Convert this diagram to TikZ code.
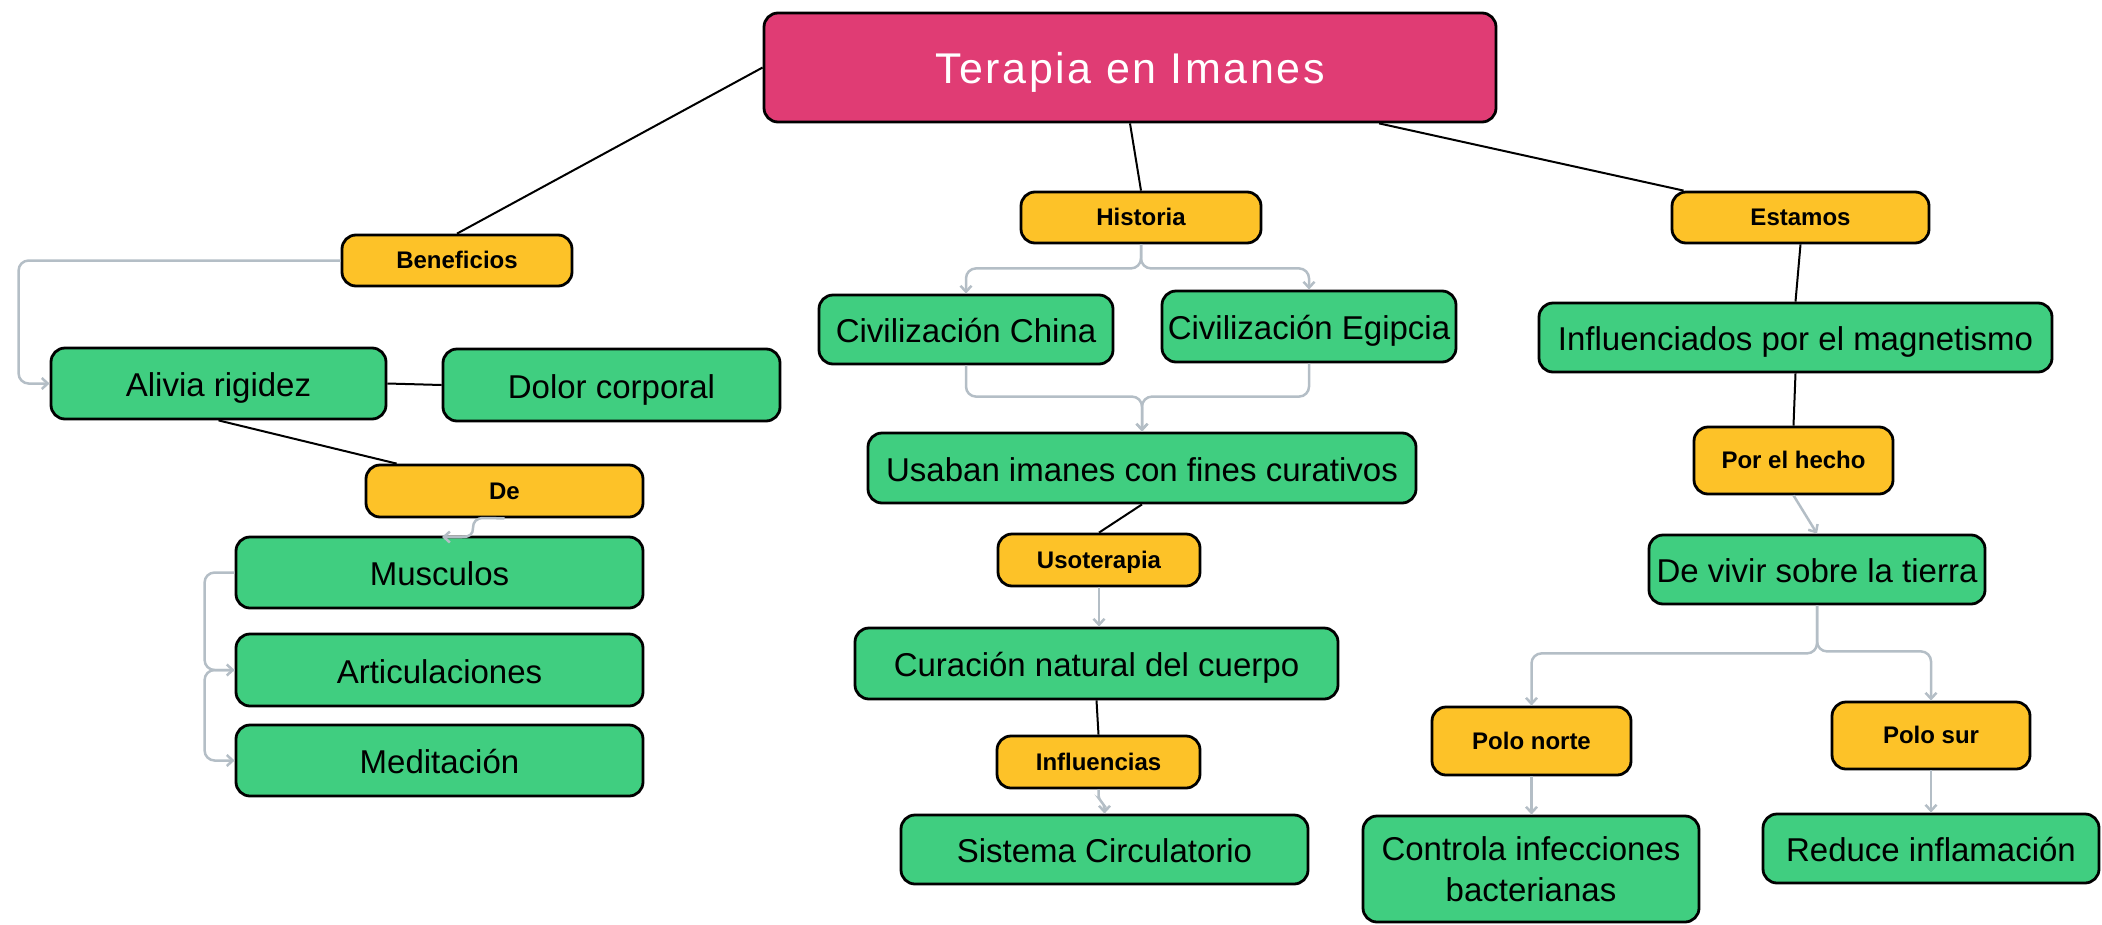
\documentclass[tikz,border=0pt]{standalone}
\usepackage{fontspec}
\setmainfont{Liberation Sans}
\newfontfamily\titlefont[LetterSpace=6]{Liberation Sans}
\usetikzlibrary{arrows.meta,calc}
\definecolor{tpink}{HTML}{E03C74}
\definecolor{tyellow}{HTML}{FDC228}
\definecolor{tgreen}{HTML}{40CE80}
\definecolor{tgray}{HTML}{B4BEC6}
\begin{document}
\begin{tikzpicture}[x=1pt,y=-1pt,
  box/.style={draw=black, line width=2.8pt, rounded corners=14pt, inner sep=0pt, align=center},
  gbox/.style={box, fill=tgreen, font=\fontsize{33}{41}\selectfont, text height=26.4pt, text depth=0pt},
  ybox/.style={box, fill=tyellow, font=\fontsize{24}{28}\selectfont\bfseries, text height=16.8pt, text depth=0pt},
  tbox/.style={box, fill=tpink, text=white, font=\fontsize{43}{50}\titlefont, text height=31pt, text depth=0pt},
  link/.style={draw=black, line width=2pt},
  flow/.style={draw=tgray, line width=2.5pt, rounded corners=10pt, -{Straight Barb[length=6pt,width=11pt]}},
]
\useasboundingbox (0,0) rectangle (2102,924);

% title
\node[tbox, minimum width=732pt, minimum height=109pt] (title) at (1130,67.5) {Terapia en Imanes};

% left branch
\node[ybox, minimum width=230pt, minimum height=51pt] (ben) at (457,260.5) {Beneficios};
\node[gbox, minimum width=335pt, minimum height=71pt] (ali) at (218.5,383.5) {Alivia rigidez};
\node[gbox, minimum width=337pt, minimum height=72pt] (dol) at (611.5,385) {Dolor corporal};
\node[ybox, minimum width=277pt, minimum height=52pt] (de) at (504.5,491) {De};
\node[gbox, minimum width=407pt, minimum height=71pt] (mus) at (439.5,572.5) {Musculos};
\node[gbox, minimum width=407pt, minimum height=72pt] (art) at (439.5,670) {Articulaciones};
\node[gbox, minimum width=407pt, minimum height=71pt] (med) at (439.5,760.5) {Meditación};

% middle branch
\node[ybox, minimum width=240pt, minimum height=51pt] (his) at (1141,217.5) {Historia};
\node[gbox, minimum width=294pt, minimum height=69pt] (chi) at (966,329.5) {Civilización China};
\node[gbox, minimum width=294pt, minimum height=71pt] (egi) at (1309,326.5) {Civilización Egipcia};
\node[gbox, minimum width=548pt, minimum height=70pt] (usa) at (1142,468) {Usaban imanes con fines curativos};
\node[ybox, minimum width=202pt, minimum height=52pt] (uso) at (1099,560) {Usoterapia};
\node[gbox, minimum width=483pt, minimum height=71pt] (cur) at (1096.5,663.5) {Curación natural del cuerpo};
\node[ybox, minimum width=203pt, minimum height=52pt] (inf) at (1098.5,762) {Influencias};
\node[gbox, minimum width=407pt, minimum height=69pt] (sis) at (1104.5,849.5) {Sistema Circulatorio};

% right branch
\node[ybox, minimum width=257pt, minimum height=51pt] (est) at (1800.5,217.5) {Estamos};
\node[gbox, minimum width=513pt, minimum height=69pt] (infl) at (1795.5,337.5) {Influenciados por el magnetismo};
\node[ybox, minimum width=199pt, minimum height=67pt] (por) at (1793.5,460.5) {Por el hecho};
\node[gbox, minimum width=336pt, minimum height=69pt] (viv) at (1817,569.5) {De vivir sobre la tierra};
\node[ybox, minimum width=199pt, minimum height=68pt] (pn) at (1531.5,741) {Polo norte};
\node[ybox, minimum width=198pt, minimum height=67pt] (ps) at (1931,735.5) {Polo sur};
\node[gbox, text height=, text depth=, minimum width=336pt, minimum height=106pt] (con) at (1531,869) {Controla infecciones\\bacterianas};
\node[gbox, minimum width=336pt, minimum height=69pt] (red) at (1931,848.5) {Reduce inflamación};

% black links
\draw[link] (title.west) -- (ben.north);
\draw[link] (title.south) -- (his.north);
\draw[link] ($(title.south west)!0.839!(title.south east)$) -- ($(est.north west)!0.05!(est.north east)$);
\draw[link] (ali.east) -- (dol.west);
\draw[link] (ali.south) -- ($(de.north west)+(32,0)$);
\draw[link] (usa.south) -- (uso.north);
\draw[link] (cur.south) -- (inf.north);
\draw[link] (est.south) -- (infl.north);
\draw[link] (infl.south) -- (por.north);

% gray flows
\draw[flow] (ben.west) -- ++(-322,0) |- (ali.west);
\draw[flow, rounded corners=0pt] (de.south) -- (484,518) .. controls (476,518) and (473,522) .. (473,528) .. controls (473,534) and (470,537) .. (462,537) -- (442,537);
\draw[flow] (mus.west) -- ++(-30,0) |- (art.west);
\draw[flow] (art.west) -- ++(-30,0) |- (med.west);
\draw[flow] (his.south) -- ++(0,24) -| (chi.north);
\draw[flow] (his.south) -- ++(0,24) -| (egi.north);
\draw[flow] (chi.south) |- ($(usa.north)+(0,-35)$) -- (usa.north);
\draw[flow] (egi.south) |- ($(usa.north)+(0,-35)$) -- (usa.north);
\draw[flow] (uso.south) -- (uso.south |- cur.north);
\draw[flow, rounded corners=4pt] (inf.south) -- ++(0,10) -- ++(6,5) -- (sis.north);
\draw[flow] (por.south) -- (viv.north);
\draw[flow] (viv.south) -- ++(0,48) -| (pn.north);
\draw[flow] (viv.south) -- ++(0,46) -| (ps.north);
\draw[flow] (pn.south) -- (pn.south |- con.north);
\draw[flow] (ps.south) -- (ps.south |- red.north);
\end{tikzpicture}
\end{document}
